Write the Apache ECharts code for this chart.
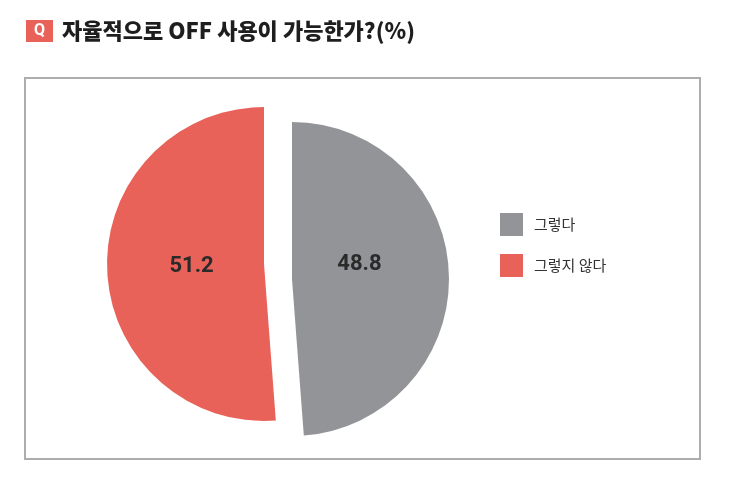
<!DOCTYPE html>
<html>
<head>
<meta charset="utf-8">
<script src="https://cdn.jsdelivr.net/npm/echarts@6/dist/echarts.min.js"></script>
<style>
html,body{margin:0;padding:0;background:#fff;}
#c{width:737px;height:490px;}
</style>
</head>
<body>
<div id="c"></div>
<script>
const titleText = '자율적으로 OFF 사용이 가능한가?(%)';
const categories = ['그렇다', '그렇지 않다'];
const values = [48.8, 51.2];
const colors = ['#939498', '#e8625a'];

const chart = echarts.init(document.getElementById('c'));
const FONT = '"Noto Sans CJK KR", "Noto Sans", sans-serif';
const R = 157;

function sliceSeries(idx, center, labelOffset) {
  return {
    type: 'pie',
    center: center,
    radius: [0, R],
    startAngle: 90,
    clockwise: true,
    silent: true,
    animation: false,
    labelLine: { show: false },
    data: categories.map((name, i) => {
      if (i === idx) {
        return {
          name: name,
          value: values[i],
          itemStyle: { color: colors[i] },
          label: {
            show: true,
            position: 'inside',
            formatter: '{c}',
            fontSize: 22,
            fontWeight: 'bold',
            fontFamily: 'Roboto, "Noto Sans", sans-serif',
            color: '#2a2a2a',
            offset: labelOffset
          }
        };
      }
      return {
        name: '_' + name,
        value: values[i],
        itemStyle: { color: 'rgba(0,0,0,0)' },
        label: { show: false }
      };
    })
  };
}

chart.setOption({
  backgroundColor: '#ffffff',
  animation: false,
  color: colors,
  graphic: [
    { type: 'rect', shape: { x: 25, y: 78, width: 675, height: 381 },
      style: { fill: '#fff', stroke: '#adadad', lineWidth: 2 }, z: -10 },
    { type: 'rect', shape: { x: 26, y: 20, width: 27, height: 22 },
      style: { fill: '#e8625a' } },
    { type: 'text', x: 39.5, y: 31,
      style: { text: 'Q', fill: '#fff', font: 'bold 16px Roboto, sans-serif', textAlign: 'center', textVerticalAlign: 'middle' } },
    { type: 'text', x: 62, y: 31,
      style: { text: titleText, fill: '#1e1e1e', font: '900 22px ' + FONT, textAlign: 'left', textVerticalAlign: 'middle' } }
  ],
  legend: {
    data: categories,
    orient: 'vertical',
    left: 500,
    top: 213,
    padding: 0,
    icon: 'rect',
    itemWidth: 23,
    itemHeight: 23,
    itemGap: 18,
    selectedMode: false,
    textStyle: { fontSize: 15, color: '#333', fontFamily: FONT, padding: [0, 0, 0, 6] }
  },
  series: [
    sliceSeries(0, [292, 279], [-14, -11]),
    sliceSeries(1, [264, 264], [9, -1])
  ]
});
</script>
</body>
</html>
